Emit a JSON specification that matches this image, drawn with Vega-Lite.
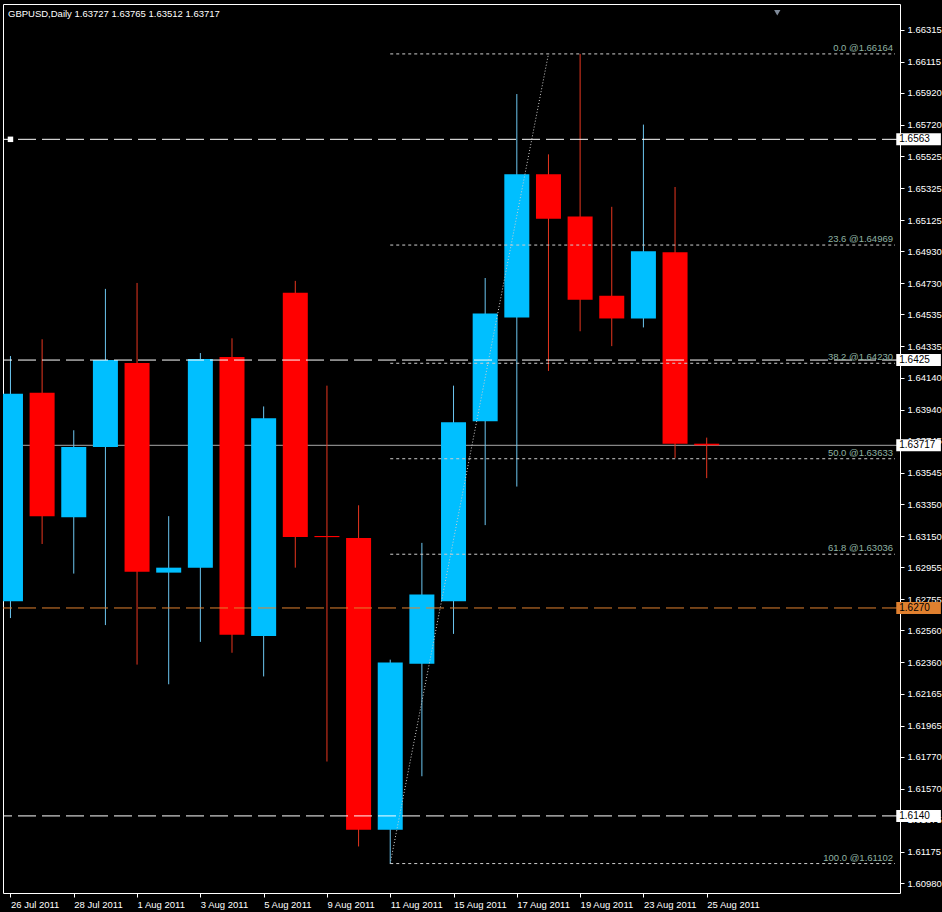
{
  "$schema": "https://vega.github.io/schema/vega-lite/v6.json",
  "width": 897,
  "height": 889,
  "autosize": {"type": "none"},
  "padding": {"left": 3, "top": 4, "right": 42, "bottom": 19},
  "background": "#000000",
  "config": {
    "view": {"stroke": "#FFFFFF", "strokeWidth": 1},
    "font": "Liberation Sans",
    "axis": {"labelFont": "Liberation Sans", "labelFontSize": 9.5, "labelColor": "#FFFFFF", "tickColor": "#FFFFFF", "tickSize": 4, "domain": false, "grid": false, "title": null, "labelOverlap": false, "labelFlush": false, "labelBound": false, "zindex": 0}
  },
  "title": {"text": "GBPUSD,Daily  1.63727 1.63765 1.63512 1.63717", "anchor": "start", "frame": "group", "offset": -14, "dx": 5, "color": "#FFFFFF", "fontSize": 9.5, "fontWeight": "normal", "font": "Liberation Sans"},
  "datasets": {
    "candles": [
      {"i": 0, "date": "26 Jul 2011", "open": 1.62742, "high": 1.64275, "low": 1.62637, "close": 1.64040},
      {"i": 1, "date": "27 Jul 2011", "open": 1.64046, "high": 1.64380, "low": 1.63100, "close": 1.63274},
      {"i": 2, "date": "28 Jul 2011", "open": 1.63267, "high": 1.63811, "low": 1.62915, "close": 1.63706},
      {"i": 3, "date": "29 Jul 2011", "open": 1.63706, "high": 1.64695, "low": 1.62593, "close": 1.64250},
      {"i": 4, "date": "1 Aug 2011", "open": 1.64232, "high": 1.64732, "low": 1.62346, "close": 1.62927},
      {"i": 5, "date": "2 Aug 2011", "open": 1.62921, "high": 1.63274, "low": 1.62223, "close": 1.62952},
      {"i": 6, "date": "3 Aug 2011", "open": 1.62952, "high": 1.64294, "low": 1.62488, "close": 1.64256},
      {"i": 7, "date": "4 Aug 2011", "open": 1.64269, "high": 1.64386, "low": 1.62420, "close": 1.62532},
      {"i": 8, "date": "5 Aug 2011", "open": 1.62525, "high": 1.63960, "low": 1.62272, "close": 1.63886},
      {"i": 9, "date": "8 Aug 2011", "open": 1.64671, "high": 1.64745, "low": 1.62952, "close": 1.63144},
      {"i": 10, "date": "9 Aug 2011", "open": 1.63150, "high": 1.64090, "low": 1.61740, "close": 1.63143},
      {"i": 11, "date": "10 Aug 2011", "open": 1.63137, "high": 1.63342, "low": 1.61209, "close": 1.61314},
      {"i": 12, "date": "11 Aug 2011", "open": 1.61314, "high": 1.62377, "low": 1.61102, "close": 1.62359},
      {"i": 13, "date": "12 Aug 2011", "open": 1.62352, "high": 1.63107, "low": 1.61648, "close": 1.62785},
      {"i": 14, "date": "15 Aug 2011", "open": 1.62742, "high": 1.64090, "low": 1.62538, "close": 1.63861},
      {"i": 15, "date": "16 Aug 2011", "open": 1.63867, "high": 1.64763, "low": 1.63218, "close": 1.64541},
      {"i": 16, "date": "17 Aug 2011", "open": 1.64516, "high": 1.65913, "low": 1.63459, "close": 1.65412},
      {"i": 17, "date": "18 Aug 2011", "open": 1.65412, "high": 1.65536, "low": 1.64182, "close": 1.65134},
      {"i": 18, "date": "19 Aug 2011", "open": 1.65147, "high": 1.66164, "low": 1.64430, "close": 1.64627},
      {"i": 19, "date": "22 Aug 2011", "open": 1.64652, "high": 1.65208, "low": 1.64337, "close": 1.64510},
      {"i": 20, "date": "23 Aug 2011", "open": 1.64510, "high": 1.65722, "low": 1.64454, "close": 1.64930},
      {"i": 21, "date": "24 Aug 2011", "open": 1.64924, "high": 1.65332, "low": 1.63638, "close": 1.63727},
      {"i": 22, "date": "25 Aug 2011", "open": 1.63727, "high": 1.63765, "low": 1.63512, "close": 1.63717}
    ],
    "levels": [
      {"price": 1.6563, "label": "1.6563", "kind": "hline"},
      {"price": 1.6425, "label": "1.6425", "kind": "hline"},
      {"price": 1.6140, "label": "1.6140", "kind": "hline"},
      {"price": 1.6270, "label": "1.6270", "kind": "orange"},
      {"price": 1.63717, "label": "1.63717", "kind": "bid"}
    ],
    "fib": [
      {"level": 0.0, "price": 1.66164, "start": 12, "label": "0.0 @1.66164"},
      {"level": 23.6, "price": 1.64969, "start": 12, "label": "23.6 @1.64969"},
      {"level": 38.2, "price": 1.64230, "start": 12, "label": "38.2 @1.64230"},
      {"level": 50.0, "price": 1.63633, "start": 12, "label": "50.0 @1.63633"},
      {"level": 61.8, "price": 1.63036, "start": 12, "label": "61.8 @1.63036"},
      {"level": 100.0, "price": 1.61102, "start": 12, "label": "100.0 @1.61102"}
    ],
    "fibline": [
      {"i": 12, "price": 1.61102},
      {"i": 17, "price": 1.66164}
    ]
  },
  "encoding": {
    "x": {"type": "quantitative", "scale": {"domain": [-0.078, 27.95], "nice": false, "zero": false},
      "axis": {"orient": "bottom", "values": [0, 2, 4, 6, 8, 10, 12, 14, 16, 18, 20, 22], "labelAlign": "left", "labelBaseline": "top", "labelPadding": 2,
        "labelExpr": "['26 Jul 2011','28 Jul 2011','1 Aug 2011','3 Aug 2011','5 Aug 2011','9 Aug 2011','11 Aug 2011','15 Aug 2011','17 Aug 2011','19 Aug 2011','23 Aug 2011','25 Aug 2011'][round(datum.value/2)]"}},
    "y": {"type": "quantitative", "scale": {"domain": [1.609493, 1.664448], "nice": false, "zero": false},
      "axis": {"orient": "right", "format": ".5f", "labelPadding": 3, "labelAlign": "left", "labelBaseline": "middle",
        "values": [1.66315, 1.66115, 1.65920, 1.65720, 1.65525, 1.65325, 1.65125, 1.64930, 1.64730, 1.64535, 1.64335, 1.64140, 1.63940, 1.63745, 1.63545, 1.63350, 1.63150, 1.62955, 1.62755, 1.62560, 1.62360, 1.62165, 1.61965, 1.61770, 1.61570, 1.61375, 1.61175, 1.60980]}}
  },
  "layer": [
    {
      "data": {"name": "levels"},
      "transform": [{"filter": "datum.kind == 'bid'"}],
      "mark": {"type": "rule", "color": "#A8A8A8", "strokeWidth": 1},
      "encoding": {"y": {"field": "price", "type": "quantitative"}}
    },
    {
      "data": {"name": "candles"},
      "mark": {"type": "rule", "strokeWidth": 1, "clip": true},
      "encoding": {
        "x": {"field": "i", "type": "quantitative"},
        "y": {"field": "low", "type": "quantitative"},
        "y2": {"field": "high"},
        "color": {"condition": {"test": "datum.close >= datum.open", "value": "#6CC6F0"}, "value": "#E8361F"}
      }
    },
    {
      "data": {"name": "candles"},
      "mark": {"type": "bar", "size": 25, "minBandSize": 1, "clip": true},
      "encoding": {
        "x": {"field": "i", "type": "quantitative"},
        "y": {"field": "open", "type": "quantitative"},
        "y2": {"field": "close"},
        "color": {"condition": {"test": "datum.close >= datum.open", "value": "#00BFFF"}, "value": "#FF0000"}
      }
    },
    {
      "data": {"name": "levels"},
      "transform": [{"filter": "datum.kind != 'bid'"}],
      "mark": {"type": "rule", "strokeWidth": 1, "strokeDash": [18, 6]},
      "encoding": {
        "y": {"field": "price", "type": "quantitative"},
        "color": {"field": "kind", "type": "nominal", "scale": {"domain": ["hline", "orange"], "range": ["#FFFFFF", "#E0802F"]}, "legend": null}
      }
    },
    {
      "data": {"name": "levels"},
      "transform": [{"filter": "datum.label == '1.6563'"}],
      "mark": {"type": "point", "shape": "square", "filled": true, "size": 30, "color": "#FFFFFF", "opacity": 1},
      "encoding": {
        "x": {"datum": 0},
        "y": {"field": "price", "type": "quantitative"}
      }
    },
    {
      "data": {"name": "fib"},
      "mark": {"type": "rule", "strokeWidth": 1, "strokeDash": [3, 3], "color": "#CFCFCF"},
      "encoding": {
        "x": {"field": "start", "type": "quantitative"},
        "x2": {"datum": 27.95},
        "y": {"field": "price", "type": "quantitative"}
      }
    },
    {
      "data": {"name": "fibline"},
      "mark": {"type": "line", "strokeWidth": 1, "strokeDash": [1, 2], "color": "#CFCFCF"},
      "encoding": {
        "x": {"field": "i", "type": "quantitative"},
        "y": {"field": "price", "type": "quantitative"}
      }
    },
    {
      "data": {"name": "fib"},
      "mark": {"type": "text", "align": "right", "baseline": "bottom", "dy": -1, "dx": -2, "fontSize": 9.5, "font": "Liberation Sans", "color": "#8FB3A3"},
      "encoding": {
        "x": {"datum": 27.95},
        "y": {"field": "price", "type": "quantitative"},
        "text": {"field": "label"}
      }
    },
    {
      "data": {"name": "levels"},
      "mark": {"type": "bar", "orient": "horizontal", "size": 12},
      "encoding": {
        "x": {"datum": 27.99},
        "x2": {"datum": 29.4},
        "y": {"field": "price", "type": "quantitative"},
        "color": {"field": "kind", "type": "nominal", "scale": {"domain": ["hline", "bid", "orange"], "range": ["#FFFFFF", "#FFFFFF", "#F5A027"]}, "legend": null}
      }
    },
    {
      "data": {"name": "levels"},
      "mark": {"type": "text", "align": "left", "baseline": "middle", "fontSize": 10, "font": "Liberation Sans", "color": "#000000", "dx": 3},
      "encoding": {
        "x": {"datum": 27.99},
        "y": {"field": "price", "type": "quantitative"},
        "text": {"field": "label"}
      }
    },
    {
      "data": {"name": "fibline"},
      "transform": [{"filter": "datum.i == 17"}],
      "mark": {"type": "point", "shape": "triangle-down", "filled": true, "size": 40, "color": "#7F8A99", "opacity": 1, "dy": 0},
      "encoding": {
        "x": {"datum": 24.23},
        "y": {"datum": 1.66422}
      }
    }
  ]
}
